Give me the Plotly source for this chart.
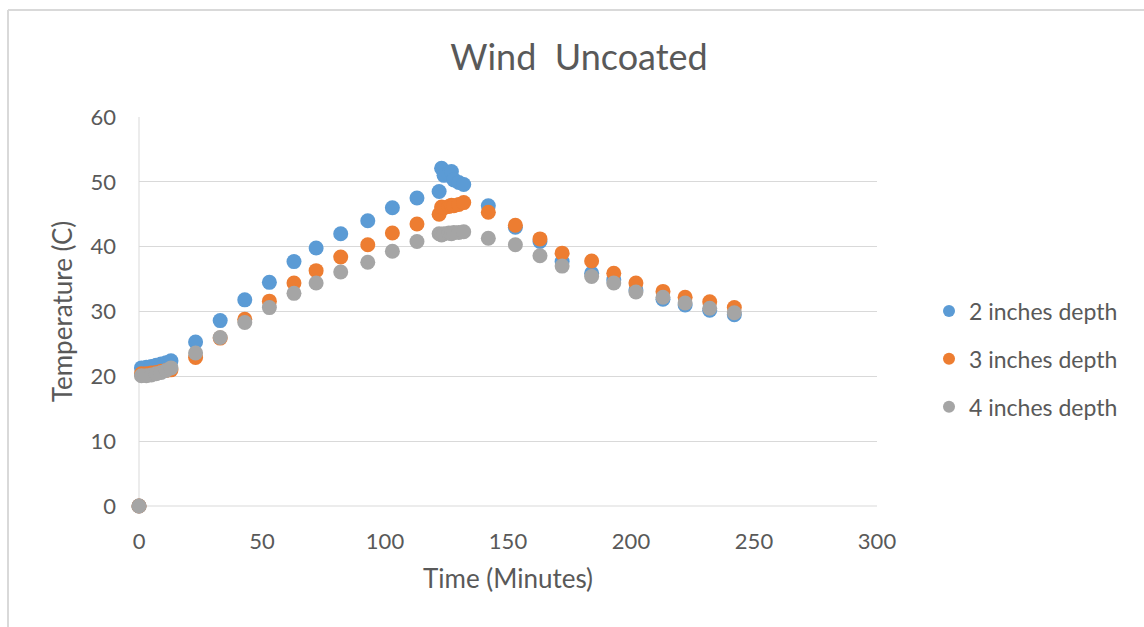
import plotly.graph_objects as go

# ---- data ----
time_min = [0, 1, 3, 5, 7, 9, 11, 13, 23, 33, 43, 53, 63, 72, 82, 93, 103, 113,
            122, 123, 124, 126, 127, 128, 130, 132,
            142, 153, 163, 172, 184, 193, 202, 213, 222, 232, 242]

depth2 = [0, 21.3, 21.4, 21.5, 21.7, 21.9, 22.1, 22.4, 25.3, 28.6, 31.8, 34.5, 37.7, 39.8, 42.0, 44.0, 46.0, 47.5,
          48.5, 52.1, 51.0, 51.2, 51.6, 50.3, 49.9, 49.6,
          46.3, 43.0, 40.8, 37.7, 35.9, 34.9, 33.3, 31.9, 31.0, 30.2, 29.5]

depth3 = [0, 20.4, 20.4, 20.5, 20.6, 20.8, 20.9, 21.0, 22.9, 25.9, 28.8, 31.6, 34.4, 36.3, 38.4, 40.3, 42.1, 43.5,
          45.0, 46.1, 46.0, 46.2, 46.4, 46.3, 46.5, 46.8,
          45.3, 43.3, 41.2, 39.0, 37.8, 35.9, 34.4, 33.1, 32.2, 31.5, 30.6]

depth4 = [0, 20.1, 20.1, 20.2, 20.4, 20.6, 20.9, 21.3, 23.6, 26.0, 28.3, 30.6, 32.8, 34.4, 36.1, 37.6, 39.3, 40.8,
          42.0, 41.8, 42.0, 42.1, 42.0, 42.2, 42.2, 42.3,
          41.3, 40.3, 38.6, 37.0, 35.4, 34.4, 33.0, 32.2, 31.3, 30.5, 29.8]

series_names = ["2 inches depth", "3 inches depth", "4 inches depth"]
series_values = [depth2, depth3, depth4]
series_colors = ["#5B9BD5", "#ED7D31", "#A5A5A5"]

x_ticks = [0, 50, 100, 150, 200, 250, 300]
y_ticks = [0, 10, 20, 30, 40, 50, 60]

FONT = "Lato, 'Open Sans', sans-serif"
TXT = "#595959"

fig = go.Figure()
for i, (name, vals, col) in enumerate(zip(series_names, series_values, series_colors)):
    fig.add_trace(go.Scatter(
        x=time_min, y=vals, mode="markers", name=name,
        legendgroup=f"g{i}", cliponaxis=False,
        marker=dict(size=15, color=col, line=dict(width=0)),
    ))

# plot area: x 139..877, y 117..506
L, R, T, B = 139, 877, 117, 506
W, H = 1144, 627
pw, ph = R - L, B - T

fig.update_layout(
    width=W, height=H,
    margin=dict(l=L, r=W - R, t=T, b=H - B),
    paper_bgcolor="white", plot_bgcolor="white",
    font=dict(family=FONT, color=TXT),
    title=dict(text="Wind  Uncoated", x=579 / W, xanchor="center",
               y=1 - 57 / H, yanchor="middle",
               font=dict(size=36, color=TXT, family=FONT)),
    xaxis=dict(range=[0, 300], tickvals=x_ticks, showgrid=False, zeroline=False,
               showline=False, ticks="", tickfont=dict(size=22, color=TXT),
               ticklabelstandoff=20,
               title=dict(text="Time (Minutes)", font=dict(size=26, color=TXT), standoff=16)),
    yaxis=dict(range=[0, 60], tickvals=y_ticks, showgrid=True, gridcolor="#D9D9D9",
               gridwidth=1, zeroline=False, showline=False, ticks="",
               tickfont=dict(size=22, color=TXT), ticklabelstandoff=22,
               title=dict(text="Temperature (C)", font=dict(size=26, color=TXT), standoff=10)),
    legend=dict(x=(929 - L) / pw, xanchor="left", y=(B - 359) / ph, yanchor="middle",
                font=dict(size=23, color=TXT, family=FONT), tracegroupgap=15,
                itemsizing="constant", bgcolor="rgba(0,0,0,0)"),
    showlegend=True,
)

# axis lines (left and bottom) in Excel-style light gray
fig.add_shape(type="line", xref="paper", yref="paper", x0=0, x1=0, y0=0, y1=1,
              line=dict(color="#D9D9D9", width=1), layer="below")
fig.add_shape(type="line", xref="paper", yref="paper", x0=0, x1=1, y0=0, y1=0,
              line=dict(color="#D9D9D9", width=1), layer="below")

# chart outer border (left and top visible)
bx0 = (8 - L) / pw
bx1 = (W + 5 - L) / pw
by_top = (B - 10) / ph
by_bot = (B - (H + 5)) / ph
fig.add_shape(type="line", xref="paper", yref="paper", x0=bx0, x1=bx0, y0=by_bot, y1=by_top,
              line=dict(color="#D9D9D9", width=2))
fig.add_shape(type="line", xref="paper", yref="paper", x0=bx0, x1=bx1, y0=by_top, y1=by_top,
              line=dict(color="#D9D9D9", width=2))

fig.write_html("out.html")
